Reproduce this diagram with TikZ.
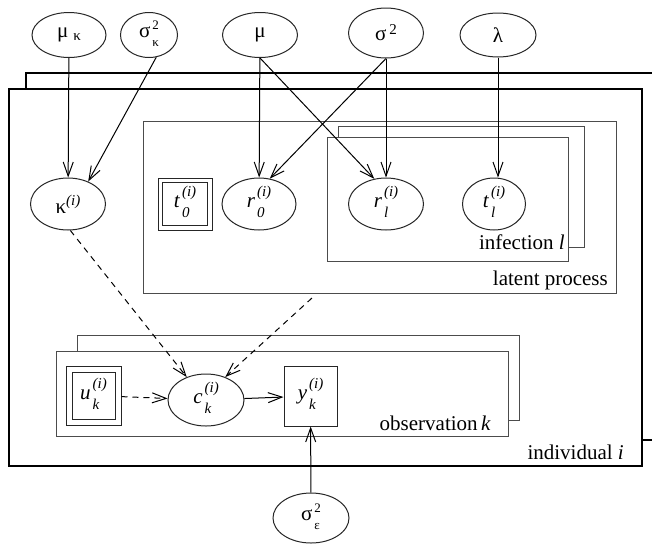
\documentclass[tikz,border=0pt]{standalone}
\usepackage{fontspec}
\setmainfont{Liberation Serif}
\usetikzlibrary{shapes.geometric,arrows.meta}
\newcommand\bigf{\fontsize{21}{25}\selectfont}
\newcommand\smf{\fontsize{15}{17}\selectfont}
\newcommand\tnf{\fontsize{13}{14}\selectfont}
% base with stacked superscript / subscript
\newcommand\lab[3]{\textit{#1}\kern2pt\raisebox{-10pt}{\smf\itshape\begin{tabular}[b]{@{}l@{}}#2\\[4pt]#3\end{tabular}}}
\newcommand\gst[3]{#1\kern2pt\raisebox{-9pt}{\tnf\begin{tabular}[b]{@{}l@{}}#2\\[3pt]#3\end{tabular}}}
\begin{document}
\begin{tikzpicture}[x=1pt,y=-1pt,font=\bigf,
  ell/.style={draw=black!85,line width=1pt,ellipse,inner sep=0pt},
  box/.style={draw=black!85,line width=1pt,rectangle,inner sep=0pt},
  plate/.style={draw=black!70,line width=1pt,fill=white},
  oplate/.style={draw=black,line width=1.8pt,fill=white},
  arr/.style={line width=1pt,-{Straight Barb[length=14pt,width=10pt]}},
  darr/.style={arr,dash pattern=on 6pt off 5pt},
  lbl/.style={anchor=base east,inner sep=0pt}]
\useasboundingbox (0,0) rectangle (652,544);
\clip (0,0) rectangle (652,544);
% plates
\draw[oplate] (26,73) rectangle (670,440);
\draw[oplate] (9,89) rectangle (642,466);
\draw[plate] (143,121) rectangle (616,293);
\draw[plate] (338,126) rectangle (584,247);
\draw[plate] (327,137) rectangle (568,261);
\draw[plate] (77,335) rectangle (519,420);
\draw[plate] (56,351) rectangle (508,436);
\node[lbl] (tinf) at (565,249) {infection \textit{l}};
\node[lbl] (tlat) at (608,285) {latent process};
\node[lbl] (tobs) at (491,430) {observation\,\textit{k}};
\node[lbl] (tind) at (624,459) {individual \textit{i}};
% top nodes
\node[ell,minimum width=74pt,minimum height=45pt,label={center:μ\kern5pt\raisebox{-3pt}{\smf κ}}] (muk) at (69,35) {};
\node[ell,minimum width=57pt,minimum height=45pt,label={center:\gst{σ}{2}{κ}}] (sigk) at (149,35) {};
\node[ell,minimum width=75pt,minimum height=45pt,label={center:μ}] (mu) at (260,35) {};
\node[ell,minimum width=75pt,minimum height=50pt,label={center:σ\kern3pt\raisebox{6pt}{\smf 2}}] (sig) at (386,33) {};
\node[ell,minimum width=76pt,minimum height=44pt,label={center:λ}] (lam) at (498,35) {};
% middle row
\node[ell,minimum width=75pt,minimum height=52pt,label={center:κ\raisebox{8pt}{\smf\itshape (i)}}] (kap) at (68,204) {};
\node[box,minimum width=54pt,minimum height=52pt,label={center:\lab{t}{(i)}{0}}] (tz) at (185,204) {};
\draw[line width=1pt,draw=black!85] ([shift={(5,5)}]tz.north west) rectangle ([shift={(-5,-5)}]tz.south east);
\node[ell,minimum width=74pt,minimum height=52pt,label={center:\lab{r}{(i)}{0}}] (rz) at (259,204) {};
\node[ell,minimum width=75pt,minimum height=52pt,label={center:\lab{r}{(i)}{l}}] (rl) at (386,204) {};
\node[ell,minimum width=63pt,minimum height=52pt,label={center:\lab{t}{(i)}{l}}] (tl) at (494,204) {};
% bottom row
\node[box,minimum width=55pt,minimum height=59pt,label={center:\lab{u}{(i)}{k}}] (u) at (93.5,395.5) {};
\draw[line width=1pt,draw=black!85] ([shift={(6.5,6.5)}]u.north west) rectangle ([shift={(-6.5,-6.5)}]u.south east);
\node[ell,minimum width=76pt,minimum height=52pt,label={center:\lab{c}{(i)}{k}}] (c) at (206,400) {};
\node[box,minimum width=53pt,minimum height=60pt,label={center:\lab{y}{(i)}{k}}] (y) at (310.5,396) {};
\node[ell,minimum width=76pt,minimum height=50pt,label={center:\gst{σ}{2}{ε}}] (sige) at (311,518) {};
\coordinate (lpout) at (312,298);
% edges
\draw[arr] (muk) -- (kap);
\draw[arr] (sigk.-72) -- (kap.48);
\draw[arr] (mu) -- (rz);
\draw[arr] (mu.south) -- (rl.115);
\draw[arr] (sig.south) -- (rz.67);
\draw[arr] (sig) -- (rl);
\draw[arr] (lam.south) -- (lam.south |- tl.north);
\draw[darr] (kap.-85) -- (c.130);
\draw[darr] (lpout) -- (c.50);
\draw[darr] (u) -- (c);
\draw[arr] (c) -- (y);
\draw[arr] (sige) -- (y);
\end{tikzpicture}
\end{document}
